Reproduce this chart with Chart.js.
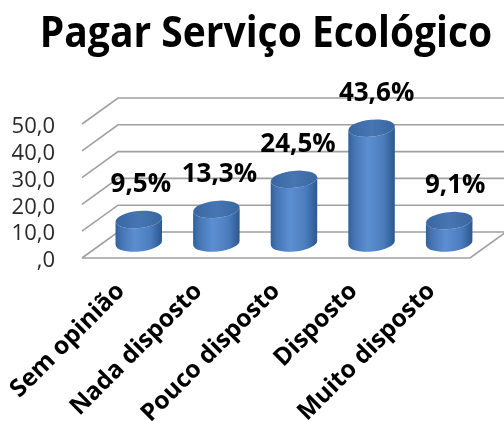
<!DOCTYPE html>
<html>
<head>
<meta charset="utf-8">
<script src="https://cdn.jsdelivr.net/npm/chart.js@4.4.1/dist/chart.umd.min.js"></script>
<style>
  html, body { margin: 0; padding: 0; background: #fff; }
</style>
</head>
<body>
<canvas id="ecoChart" width="504" height="421"></canvas>
<script>
// Dados do gráfico
const chartTitle = 'Pagar Serviço Ecológico';
const categories = ['Sem opinião', 'Nada disposto', 'Pouco disposto', 'Disposto', 'Muito disposto'];
const percentages = [9.5, 13.3, 24.5, 43.6, 9.1];
const yTicks = [0, 10, 20, 30, 40, 50];

// profundidade do "3D"
const DEPTH_X = 36;
const DEPTH_Y = -26;
const TILT = -0.1;

function formatNum(v) {
    if (v === 0) return ',0';
    return v.toFixed(1).replace('.', ',');
}

// desenha paredes, cilindros, rótulos e título
const fake3d = {
    id: 'fake3d',
    beforeDatasetsDraw(chart) {
        const { ctx, chartArea: a, scales: { y } } = chart;
        ctx.save();
        ctx.strokeStyle = '#a0a0a0';
        ctx.lineWidth = 1.6;
        yTicks.forEach(v => {
            const py = y.getPixelForValue(v);
            ctx.beginPath();
            ctx.moveTo(a.left, py);
            ctx.lineTo(a.left + DEPTH_X, py + DEPTH_Y);
            ctx.lineTo(a.right + DEPTH_X, py + DEPTH_Y);
            ctx.stroke();
        });
        const y0 = y.getPixelForValue(0);
        ctx.beginPath();
        ctx.moveTo(a.left, y0);
        ctx.lineTo(a.right, y0);
        ctx.lineTo(a.right + DEPTH_X, y0 + DEPTH_Y);
        ctx.stroke();
        ctx.restore();
    },
    afterDatasetsDraw(chart) {
        const { ctx } = chart;
        const meta = chart.getDatasetMeta(0);
        ctx.save();
        meta.data.forEach((bar, i) => {
            const cx = bar.x + DEPTH_X / 2;
            const top = bar.y + DEPTH_Y / 2;
            const base = bar.base + DEPTH_Y / 2 - 2;
            const rx = bar.width / 2;
            const ry = 8.5;

            const g = ctx.createLinearGradient(cx - rx, 0, cx + rx, 0);
            g.addColorStop(0, '#30609c');
            g.addColorStop(0.12, '#4474b2');
            g.addColorStop(0.42, '#5c8ed2');
            g.addColorStop(0.75, '#4b7dbe');
            g.addColorStop(1, '#2c578f');
            ctx.fillStyle = g;
            ctx.beginPath();
            ctx.moveTo(cx - rx, top);
            ctx.lineTo(cx - rx, base);
            ctx.ellipse(cx, base, rx, ry, TILT, Math.PI, 0, true);
            ctx.lineTo(cx + rx, top);
            ctx.ellipse(cx, top, rx, ry, TILT, 0, Math.PI, false);
            ctx.closePath();
            ctx.fill();

            const gt = ctx.createLinearGradient(cx - rx, 0, cx + rx, 0);
            gt.addColorStop(0, '#3a66a0');
            gt.addColorStop(0.5, '#4676b3');
            gt.addColorStop(1, '#3a669f');
            ctx.fillStyle = gt;
            ctx.beginPath();
            ctx.ellipse(cx, top, rx, ry, TILT, 0, Math.PI * 2);
            ctx.fill();

            ctx.fillStyle = '#000';
            ctx.font = 'bold 26px "Open Sans"';
            ctx.textAlign = 'center';
            ctx.textBaseline = 'middle';
            ctx.fillText(formatNum(percentages[i]) + '%', cx + 2 + i, top - 35);
        });
        ctx.restore();
    },
    afterDraw(chart) {
        const { ctx } = chart;
        ctx.save();
        ctx.fillStyle = '#000';
        ctx.font = 'bold 39px "Open Sans"';
        ctx.textAlign = 'center';
        ctx.textBaseline = 'alphabetic';
        ctx.translate(266, 47);
        ctx.scale(1, 1.12);
        ctx.fillText(chartTitle, 0, 0);
        ctx.restore();
    }
};

function initEcoChart() {
    const ctx = document.getElementById('ecoChart');
    if (!ctx) return;
    new Chart(ctx.getContext('2d'), {
        type: 'bar',
        data: {
            labels: categories,
            datasets: [{
                label: chartTitle,
                data: percentages,
                backgroundColor: 'rgba(0,0,0,0)',
                borderWidth: 0,
                categoryPercentage: 1,
                barPercentage: 0.6
            }]
        },
        options: {
            responsive: false,
            animation: false,
            layout: {
                padding: { left: 0, right: 34, top: 124, bottom: 0 }
            },
            plugins: {
                legend: { display: false },
                tooltip: { enabled: false },
                title: { display: false }
            },
            scales: {
                x: {
                    grid: { display: false },
                    border: { display: false },
                    afterFit(scale) {
                        scale.height = 163;
                        scale.paddingLeft = 0;
                        scale.paddingRight = 0;
                    },
                    ticks: {
                        autoSkip: false,
                        minRotation: 45,
                        maxRotation: 45,
                        padding: 11,
                        color: '#000',
                        font: { family: 'Open Sans', size: 24.5, weight: 'bold' }
                    }
                },
                y: {
                    min: 0,
                    max: 50,
                    grid: { display: false },
                    border: { display: false },
                    afterFit(scale) { scale.width = 82; },
                    ticks: {
                        stepSize: 10,
                        autoSkip: false,
                        padding: 19,
                        labelOffset: 3,
                        color: '#2a2a2a',
                        font: { family: 'Open Sans', size: 22 },
                        callback: v => formatNum(v)
                    }
                }
            }
        },
        plugins: [fake3d]
    });
}

document.addEventListener('DOMContentLoaded', initEcoChart);
</script>
</body>
</html>
